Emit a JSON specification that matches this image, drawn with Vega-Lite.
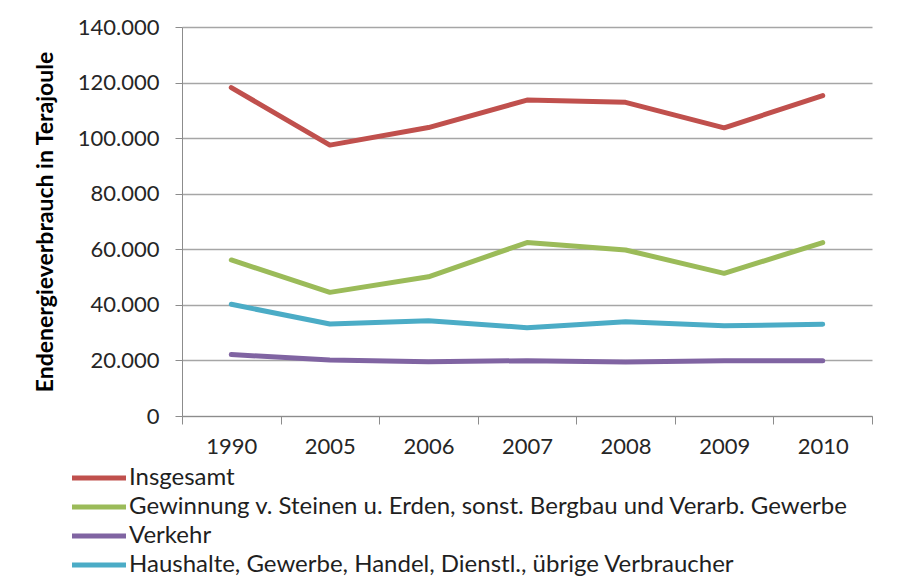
{
  "$schema": "https://vega.github.io/schema/vega-lite/v6.json",
  "width": 690,
  "height": 389,
  "autosize": "none",
  "padding": {"left": 182, "top": 27, "right": 30, "bottom": 161},
  "background": "white",
  "config": {
    "view": {"stroke": null},
    "font": "Lato",
    "locale": {"number": {"decimal": ",", "thousands": ".", "grouping": [3], "currency": ["", " €"]}}
  },
  "data": {
    "values": [
      {"Jahr": "1990", "Bereich": "Insgesamt", "Wert": 118200},
      {"Jahr": "2005", "Bereich": "Insgesamt", "Wert": 97500},
      {"Jahr": "2006", "Bereich": "Insgesamt", "Wert": 103800},
      {"Jahr": "2007", "Bereich": "Insgesamt", "Wert": 113700},
      {"Jahr": "2008", "Bereich": "Insgesamt", "Wert": 112900},
      {"Jahr": "2009", "Bereich": "Insgesamt", "Wert": 103700},
      {"Jahr": "2010", "Bereich": "Insgesamt", "Wert": 115300},
      {"Jahr": "1990", "Bereich": "Gewinnung v. Steinen u. Erden, sonst. Bergbau und Verarb. Gewerbe", "Wert": 56150},
      {"Jahr": "2005", "Bereich": "Gewinnung v. Steinen u. Erden, sonst. Bergbau und Verarb. Gewerbe", "Wert": 44500},
      {"Jahr": "2006", "Bereich": "Gewinnung v. Steinen u. Erden, sonst. Bergbau und Verarb. Gewerbe", "Wert": 50100},
      {"Jahr": "2007", "Bereich": "Gewinnung v. Steinen u. Erden, sonst. Bergbau und Verarb. Gewerbe", "Wert": 62400},
      {"Jahr": "2008", "Bereich": "Gewinnung v. Steinen u. Erden, sonst. Bergbau und Verarb. Gewerbe", "Wert": 59750},
      {"Jahr": "2009", "Bereich": "Gewinnung v. Steinen u. Erden, sonst. Bergbau und Verarb. Gewerbe", "Wert": 51350},
      {"Jahr": "2010", "Bereich": "Gewinnung v. Steinen u. Erden, sonst. Bergbau und Verarb. Gewerbe", "Wert": 62400},
      {"Jahr": "1990", "Bereich": "Verkehr", "Wert": 22100},
      {"Jahr": "2005", "Bereich": "Verkehr", "Wert": 20150},
      {"Jahr": "2006", "Bereich": "Verkehr", "Wert": 19550},
      {"Jahr": "2007", "Bereich": "Verkehr", "Wert": 19900},
      {"Jahr": "2008", "Bereich": "Verkehr", "Wert": 19450},
      {"Jahr": "2009", "Bereich": "Verkehr", "Wert": 19900},
      {"Jahr": "2010", "Bereich": "Verkehr", "Wert": 19900},
      {"Jahr": "1990", "Bereich": "Haushalte, Gewerbe, Handel, Dienstl., übrige Verbraucher", "Wert": 40200},
      {"Jahr": "2005", "Bereich": "Haushalte, Gewerbe, Handel, Dienstl., übrige Verbraucher", "Wert": 33100},
      {"Jahr": "2006", "Bereich": "Haushalte, Gewerbe, Handel, Dienstl., übrige Verbraucher", "Wert": 34300},
      {"Jahr": "2007", "Bereich": "Haushalte, Gewerbe, Handel, Dienstl., übrige Verbraucher", "Wert": 31800},
      {"Jahr": "2008", "Bereich": "Haushalte, Gewerbe, Handel, Dienstl., übrige Verbraucher", "Wert": 33950},
      {"Jahr": "2009", "Bereich": "Haushalte, Gewerbe, Handel, Dienstl., übrige Verbraucher", "Wert": 32500},
      {"Jahr": "2010", "Bereich": "Haushalte, Gewerbe, Handel, Dienstl., übrige Verbraucher", "Wert": 33000}
    ]
  },
  "mark": {"type": "line", "strokeWidth": 5, "strokeCap": "round", "strokeJoin": "round"},
  "encoding": {
    "x": {
      "field": "Jahr",
      "type": "ordinal",
      "scale": {"paddingInner": 0, "paddingOuter": 0},
      "axis": {
        "title": null,
        "labelAngle": 0,
        "tickBand": "extent",
        "tickSize": 8,
        "tickColor": "#8c8c8c",
        "domainColor": "#8c8c8c",
        "labelFontSize": 22,
        "labelColor": "#262626",
        "labelPadding": 12,
        "grid": false
      }
    },
    "y": {
      "field": "Wert",
      "type": "quantitative",
      "scale": {"domain": [0, 140000], "nice": false},
      "axis": {
        "title": "Endenergieverbrauch in Terajoule",
        "titleFontSize": 23,
        "titleFontWeight": "bold",
        "titleColor": "#000000",
        "titlePadding": 20,
        "values": [0, 20000, 40000, 60000, 80000, 100000, 120000, 140000],
        "format": ",d",
        "tickSize": 7,
        "tickColor": "#8c8c8c",
        "domainColor": "#8c8c8c",
        "gridColor": "#a6a6a6",
        "gridWidth": 1.3,
        "labelFontSize": 22,
        "labelColor": "#262626",
        "labelPadding": 16
      }
    },
    "color": {
      "field": "Bereich",
      "type": "nominal",
      "scale": {
        "domain": ["Insgesamt", "Gewinnung v. Steinen u. Erden, sonst. Bergbau und Verarb. Gewerbe", "Verkehr", "Haushalte, Gewerbe, Handel, Dienstl., übrige Verbraucher"],
        "range": ["#C0504D", "#9BBB59", "#8064A2", "#4BACC6"]
      },
      "legend": {
        "title": null,
        "orient": "none",
        "legendX": -95,
        "legendY": 439,
        "padding": 0,
        "symbolType": "M-3,0H3",
        "symbolSize": 324,
        "symbolStrokeWidth": 5,
        "labelFontSize": 24,
        "labelColor": "#1f1f1f",
        "labelOffset": 18,
        "rowPadding": 5,
        "labelLimit": 900
      }
    }
  }
}
